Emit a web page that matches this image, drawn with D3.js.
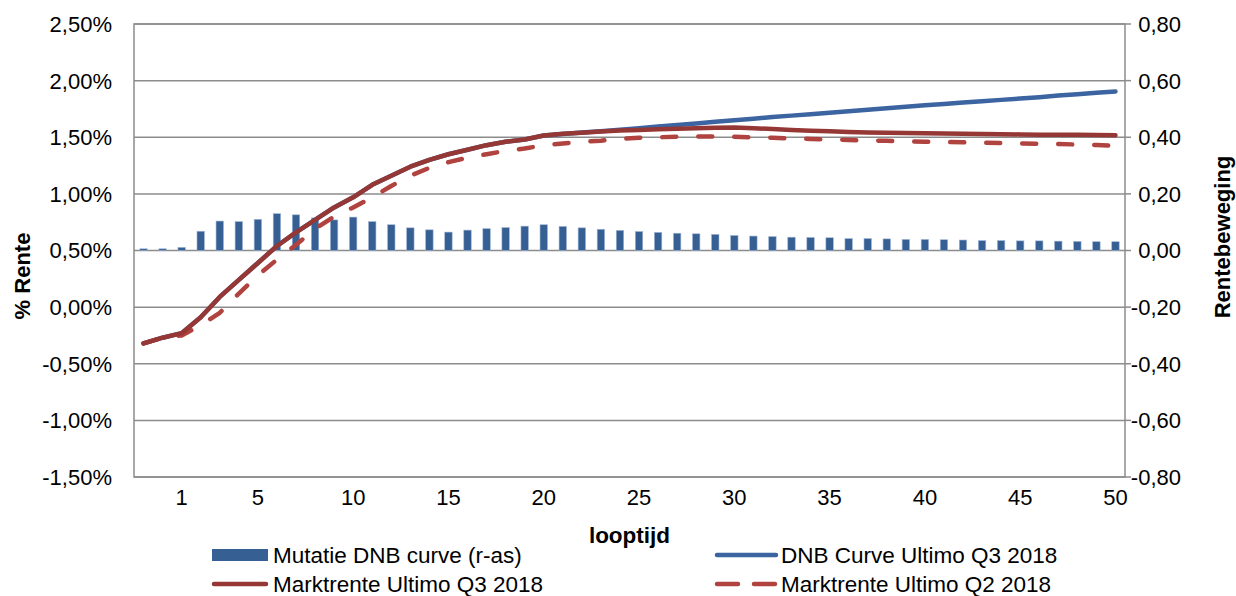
<!DOCTYPE html>
<html>
<head>
<meta charset="utf-8">
<script src="https://cdn.jsdelivr.net/npm/d3@7"></script>
<style>
  body { margin: 0; background: #fff; }
  svg { display: block; font-family: "Liberation Sans", Arial, sans-serif; }
</style>
</head>
<body>
<svg id="chart"></svg>
<script>
// looptijd categories (first two are 3 and 6 months)
const categories = ["0,25", "0,5", "1", "2", "3", "4", "5", "6", "7", "8", "9", "10",
    "11", "12", "13", "14", "15", "16", "17", "18", "19", "20", "21", "22", "23", "24", "25",
    "26", "27", "28", "29", "30", "31", "32", "33", "34", "35", "36", "37", "38", "39", "40",
    "41", "42", "43", "44", "45", "46", "47", "48", "49", "50"];
const xTickLabels = ["1", "5", "10", "15", "20", "25", "30", "35", "40", "45", "50"];

// Mutatie DNB curve (r-as)
const mutatie = [0.006, 0.006, 0.011, 0.068, 0.104, 0.102, 0.110, 0.130, 0.126, 0.115,
    0.108, 0.118, 0.102, 0.091, 0.080, 0.073, 0.065, 0.072, 0.077, 0.081, 0.086, 0.091,
    0.085, 0.080, 0.075, 0.071, 0.067, 0.064, 0.061, 0.059, 0.057, 0.053, 0.051, 0.049,
    0.047, 0.046, 0.045, 0.042, 0.042, 0.041, 0.039, 0.039, 0.038, 0.037, 0.035, 0.035,
    0.034, 0.034, 0.033, 0.032, 0.031, 0.031];

// DNB Curve Ultimo Q3 2018 (%)
const dnbQ3 = [-0.32, -0.27, -0.23, -0.09, 0.09, 0.24, 0.39, 0.54, 0.66, 0.77, 0.88,
    0.97, 1.08, 1.16, 1.24, 1.30, 1.35, 1.39, 1.43, 1.46, 1.48, 1.515, 1.528, 1.541, 1.554,
    1.567, 1.580, 1.594, 1.608, 1.622, 1.636, 1.650, 1.664, 1.678, 1.691, 1.704, 1.717,
    1.730, 1.743, 1.756, 1.769, 1.782, 1.794, 1.806, 1.818, 1.830, 1.842, 1.854, 1.868,
    1.880, 1.892, 1.905];

// Marktrente Ultimo Q3 2018 (%)
const marktQ3 = [-0.32, -0.27, -0.23, -0.09, 0.09, 0.24, 0.39, 0.54, 0.66, 0.77, 0.88,
    0.97, 1.08, 1.16, 1.24, 1.30, 1.35, 1.39, 1.43, 1.46, 1.48, 1.515, 1.53, 1.54, 1.55,
    1.56, 1.565, 1.57, 1.575, 1.58, 1.583, 1.585, 1.58, 1.572, 1.565, 1.558, 1.552, 1.547,
    1.543, 1.54, 1.537, 1.535, 1.533, 1.531, 1.529, 1.527, 1.525, 1.523, 1.522, 1.521,
    1.52, 1.518];

// Marktrente Ultimo Q2 2018 (%)
const marktQ2 = [-0.32, -0.27, -0.25, -0.16, -0.05, 0.12, 0.28, 0.42, 0.55, 0.69, 0.80,
    0.88, 0.97, 1.07, 1.16, 1.23, 1.28, 1.32, 1.35, 1.38, 1.40, 1.43, 1.445, 1.46, 1.47,
    1.485, 1.495, 1.50, 1.505, 1.506, 1.506, 1.504, 1.50, 1.495, 1.49, 1.485, 1.48, 1.476,
    1.472, 1.468, 1.464, 1.461, 1.458, 1.455, 1.452, 1.449, 1.446, 1.443, 1.44, 1.436,
    1.431, 1.425];

const leftTicks = [-1.5, -1, -0.5, 0, 0.5, 1, 1.5, 2, 2.5];
const rightTicks = [-0.8, -0.6, -0.4, -0.2, 0, 0.2, 0.4, 0.6, 0.8];

const width = 1236;
const height = 596;
const plot = { left: 134, right: 1125, top: 24, bottom: 477 };

const nl = d3.formatLocale({ decimal: ",", thousands: ".", grouping: [3], currency: ["€", ""], minus: "-" });
const fmt2 = nl.format(".2f");

const gray = "#8c8c8c";
const barColor = "#365f93";
const blue = "#3b64a0";
const red = "#953735";
const redDash = "#b0433f";

const svg = d3.select("#chart")
    .attr("width", width)
    .attr("height", height);

const x = d3.scaleBand()
    .domain(categories)
    .range([plot.left, plot.right])
    .paddingInner(0.61)
    .paddingOuter(0.305);

const xc = d => x(d) + x.bandwidth() / 2;

const yLeft = d3.scaleLinear().domain([-1.5, 2.5]).range([plot.bottom, plot.top]);
const yRight = d3.scaleLinear().domain([-0.8, 0.8]).range([plot.bottom, plot.top]);

// gridlines
svg.append("g")
    .selectAll("line")
    .data(leftTicks)
    .join("line")
    .attr("x1", plot.left)
    .attr("x2", plot.right)
    .attr("y1", d => yLeft(d))
    .attr("y2", d => yLeft(d))
    .attr("stroke", gray)
    .attr("stroke-width", 1.5);

// plot frame (axes)
svg.append("rect")
    .attr("x", plot.left)
    .attr("y", plot.top)
    .attr("width", plot.right - plot.left)
    .attr("height", plot.bottom - plot.top)
    .attr("fill", "none")
    .attr("stroke", gray)
    .attr("stroke-width", 1.5);

// right axis outer ticks
svg.append("g")
    .selectAll("line")
    .data(rightTicks)
    .join("line")
    .attr("x1", plot.right)
    .attr("x2", plot.right + 6)
    .attr("y1", d => yRight(d))
    .attr("y2", d => yRight(d))
    .attr("stroke", gray)
    .attr("stroke-width", 1.5);

// bars on the secondary axis
svg.append("g")
    .selectAll("rect")
    .data(mutatie)
    .join("rect")
    .attr("x", (d, i) => x(categories[i]))
    .attr("width", x.bandwidth())
    .attr("y", d => yRight(Math.max(0, d)))
    .attr("height", d => Math.abs(yRight(d) - yRight(0)))
    .attr("fill", barColor)
    .attr("stroke", "#9fb5d4")
    .attr("stroke-width", 0.6);

const line = series => d3.line()
    .x((d, i) => xc(categories[i]))
    .y(d => yLeft(d))(series);

svg.append("path")
    .attr("d", line(dnbQ3))
    .attr("fill", "none")
    .attr("stroke", blue)
    .attr("stroke-width", 4.5)
    .attr("stroke-linejoin", "round")
    .attr("stroke-linecap", "round");

svg.append("path")
    .attr("d", line(marktQ2))
    .attr("fill", "none")
    .attr("stroke", redDash)
    .attr("stroke-width", 4.5)
    .attr("stroke-dasharray", "14,22")
    .attr("stroke-linejoin", "round")
    .attr("stroke-linecap", "round");

svg.append("path")
    .attr("d", line(marktQ3))
    .attr("fill", "none")
    .attr("stroke", red)
    .attr("stroke-width", 4.5)
    .attr("stroke-linejoin", "round")
    .attr("stroke-linecap", "round");

// left tick labels
svg.append("g")
    .attr("text-anchor", "end")
    .attr("font-size", 22)
    .attr("fill", "#000")
    .selectAll("text")
    .data(leftTicks)
    .join("text")
    .attr("x", 112)
    .attr("y", d => yLeft(d))
    .attr("dy", "0.36em")
    .text(d => fmt2(d) + "%");

// right tick labels
svg.append("g")
    .attr("text-anchor", "end")
    .attr("font-size", 22)
    .attr("fill", "#000")
    .selectAll("text")
    .data(rightTicks)
    .join("text")
    .attr("x", 1181)
    .attr("y", d => yRight(d))
    .attr("dy", "0.36em")
    .text(d => fmt2(d));

// x tick labels
svg.append("g")
    .attr("text-anchor", "middle")
    .attr("font-size", 22)
    .attr("fill", "#000")
    .selectAll("text")
    .data(xTickLabels)
    .join("text")
    .attr("x", d => xc(d))
    .attr("y", 497)
    .attr("dy", "0.36em")
    .text(d => d);

// axis titles
svg.append("text")
    .attr("x", (plot.left + plot.right) / 2)
    .attr("y", 535)
    .attr("dy", "0.36em")
    .attr("text-anchor", "middle")
    .attr("font-size", 22.5)
    .attr("font-weight", "bold")
    .text("looptijd");

svg.append("text")
    .attr("transform", "translate(22,276) rotate(-90)")
    .attr("dy", "0.36em")
    .attr("text-anchor", "middle")
    .attr("font-size", 22)
    .attr("font-weight", "bold")
    .text("% Rente");

svg.append("text")
    .attr("transform", "translate(1222,237) rotate(-90)")
    .attr("dy", "0.36em")
    .attr("text-anchor", "middle")
    .attr("font-size", 22)
    .attr("font-weight", "bold")
    .text("Rentebeweging");

// legend
const legend = svg.append("g").attr("font-size", 22.5);

legend.append("rect")
    .attr("x", 212).attr("y", 549)
    .attr("width", 56).attr("height", 12)
    .attr("fill", barColor);
legend.append("text").attr("x", 273).attr("y", 555).attr("dy", "0.36em")
    .text("Mutatie DNB curve (r-as)");

legend.append("line")
    .attr("x1", 717).attr("x2", 776).attr("y1", 555).attr("y2", 555)
    .attr("stroke", blue).attr("stroke-width", 4.5).attr("stroke-linecap", "round");
legend.append("text").attr("x", 781).attr("y", 555).attr("dy", "0.36em")
    .text("DNB Curve Ultimo Q3 2018");

legend.append("line")
    .attr("x1", 214).attr("x2", 266).attr("y1", 584).attr("y2", 584)
    .attr("stroke", red).attr("stroke-width", 4.5).attr("stroke-linecap", "round");
legend.append("text").attr("x", 273).attr("y", 584).attr("dy", "0.36em")
    .text("Marktrente Ultimo Q3 2018");

legend.append("line")
    .attr("x1", 717).attr("x2", 776).attr("y1", 584).attr("y2", 584)
    .attr("stroke", redDash).attr("stroke-width", 4.5).attr("stroke-linecap", "round")
    .attr("stroke-dasharray", "21,16");
legend.append("text").attr("x", 781).attr("y", 584).attr("dy", "0.36em")
    .text("Marktrente Ultimo Q2 2018");
</script>
</body>
</html>
